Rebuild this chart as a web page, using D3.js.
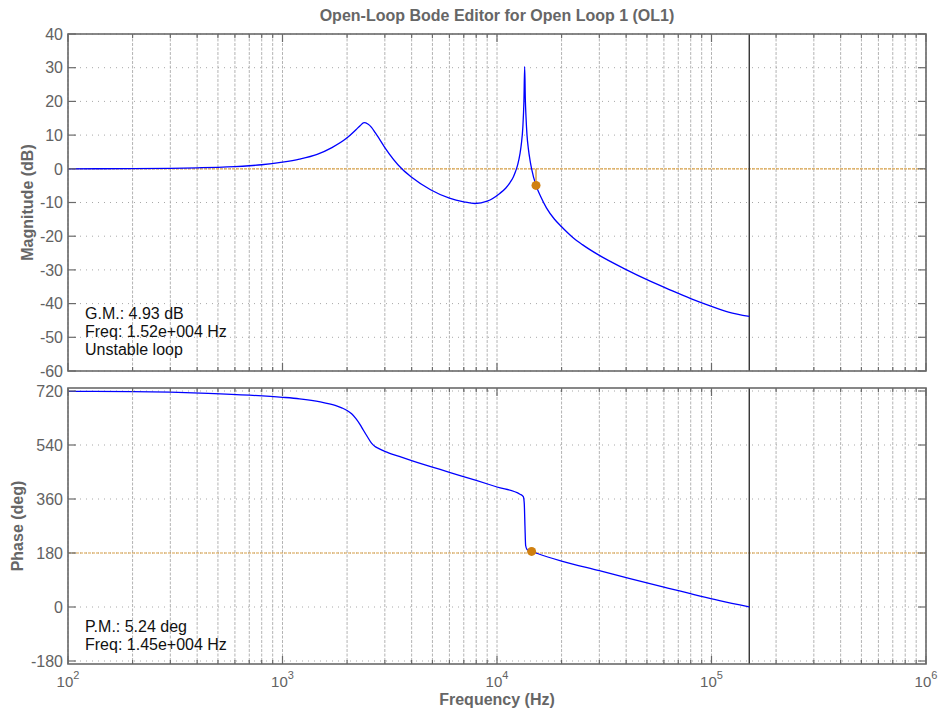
<!DOCTYPE html>
<html><head><meta charset="utf-8">
<script src="https://cdn.jsdelivr.net/npm/d3@7"></script>
<style>body{margin:0;background:#fff} svg{display:block} text{font-family:"Liberation Sans",Arial,Helvetica,sans-serif}</style>
</head><body><svg id="c" width="938" height="711"></svg>
<script>
// ---- data ----
const magFreq = [100, 200, 300, 400, 500, 600, 700, 800, 1000, 1200, 1450, 1700, 2000, 2200, 2300, 2400, 2500, 2600, 2700, 2800, 3000, 3600, 4000, 4900, 6000, 7000, 7900, 9000, 10300, 11000, 11500, 11900, 12200, 12500, 12800, 13000, 13200, 13350, 13460, 13550, 13650, 13800, 14000, 14250, 14500, 15200, 16000, 17000, 18500, 20000, 22500, 25000, 30000, 40000, 50000, 64000, 80000, 100000, 120000, 150000];
const magDb   = [0, 0.05, 0.15, 0.3, 0.45, 0.65, 0.9, 1.2, 2.0, 2.9, 4.3, 6.3, 9.2, 11.6, 12.8, 13.7, 13.3, 12.3, 10.8, 9.3, 6.3, 0, -2.5, -6.2, -8.7, -9.8, -10.3, -9.6, -7.3, -5.7, -4.1, -2.5, -0.8, 1.3, 4.5, 7.6, 12.5, 20, 30.3, 21, 15.5, 10, 6, 2.6, 0, -4.93, -8.3, -11.6, -14.9, -17.2, -20.3, -22.5, -25.7, -29.9, -32.9, -35.9, -38.5, -40.8, -42.5, -43.8];
const phaseFreq = [100, 200, 300, 450, 700, 1000, 1200, 1500, 1760, 1900, 2000, 2100, 2200, 2300, 2380, 2500, 2600, 2700, 2800, 3000, 3500, 4000, 6000, 8000, 10000, 12800, 13260, 13400, 13500, 13600, 13800, 14500, 15200, 20000, 30000, 40000, 60000, 109000, 150000];
const phaseDeg  = [719, 718, 716, 712, 706, 699, 694, 684, 672, 663, 655, 644, 628, 608, 590, 565, 546, 535, 529, 519, 502, 488, 449, 422, 400, 376, 368, 345, 270, 205, 192, 185.24, 180, 153, 121, 98, 66, 21, 0];
const magTicks = [-60, -50, -40, -30, -20, -10, 0, 10, 20, 30, 40];
const phaseTicks = [-180, 0, 180, 360, 540, 720];
const freqTickExp = [2, 3, 4, 5, 6];
const gmFreq = 1.52e4, gmDb = -4.93;
const pmFreq = 1.45e4, pmDeg = 185.24;
const refDb = 0, refDeg = 180;
const endFreq = 1.5e5;
const gmLines = ["G.M.: 4.93 dB", "Freq: 1.52e+004 Hz", "Unstable loop"];
const pmLines = ["P.M.: 5.24 deg", "Freq: 1.45e+004 Hz"];

// ---- layout ----
const svg = d3.select('#c');
const L = 68, R = 926;
const x = d3.scaleLog().domain([1e2, 1e6]).range([L, R]);
const yMag = d3.scaleLinear().domain([-60, 40]).range([371, 34]);
const yPh = d3.scaleLinear().domain([-190, 730]).range([664, 388]);
const gridX = x.ticks();
const axisCol = '#6a6a6a', labCol = '#626262', orange = '#d9a24a', dotCol = '#d0800f';

function panel(y, yTicks, freqs, vals, refVal, mk, lines, ylast) {
  const [b, t] = y.range();
  const g = svg.append('g');
  g.selectAll('.vg').data(gridX).join('line')
    .attr('x1', d => x(d)).attr('x2', d => x(d)).attr('y1', t).attr('y2', b)
    .attr('stroke', '#b4b4b4').attr('stroke-width', 1).attr('stroke-dasharray', '3,1.5');
  g.selectAll('.hg').data(yTicks).join('line')
    .attr('x1', L).attr('x2', R).attr('y1', d => y(d)).attr('y2', d => y(d))
    .attr('stroke', '#a8a8a8').attr('stroke-width', 1).attr('stroke-dasharray', '1,5');
  g.append('line').attr('x1', L).attr('x2', R).attr('y1', y(refVal)).attr('y2', y(refVal))
    .attr('stroke', orange).attr('stroke-width', 1.2).attr('stroke-dasharray', '3,1');
  g.append('line').attr('x1', x(endFreq)).attr('x2', x(endFreq)).attr('y1', t).attr('y2', b)
    .attr('stroke', '#333').attr('stroke-width', 1.4);
  const pts = freqs.map((f, i) => [f, vals[i]]);
  g.append('path').datum(pts)
    .attr('d', d3.line().x(d => x(d[0])).y(d => y(d[1])).curve(d3.curveMonotoneX))
    .attr('fill', 'none').attr('stroke', '#0000ff').attr('stroke-width', 1.3);
  g.append('line').attr('x1', x(mk[0])).attr('x2', x(mk[0])).attr('y1', y(refVal)).attr('y2', y(mk[1]))
    .attr('stroke', orange).attr('stroke-width', 1.5);
  g.append('circle').attr('cx', x(mk[0])).attr('cy', y(mk[1])).attr('r', 4.5).attr('fill', dotCol);
  g.append('rect').attr('x', L).attr('y', t).attr('width', R - L).attr('height', b - t)
    .attr('fill', 'none').attr('stroke', axisCol).attr('stroke-width', 1.6);
  yTicks.forEach(v => {
    g.append('line').attr('x1', L).attr('x2', L + 8).attr('y1', y(v)).attr('y2', y(v)).attr('stroke', axisCol).attr('stroke-width', 1.2);
    g.append('line').attr('x1', R).attr('x2', R - 8).attr('y1', y(v)).attr('y2', y(v)).attr('stroke', axisCol).attr('stroke-width', 1.2);
  });
  gridX.forEach(f => {
    const major = Math.abs(Math.log10(f) - Math.round(Math.log10(f))) < 1e-9;
    const len = major ? 8 : 4;
    g.append('line').attr('x1', x(f)).attr('x2', x(f)).attr('y1', b).attr('y2', b - len).attr('stroke', axisCol).attr('stroke-width', 1.2);
    g.append('line').attr('x1', x(f)).attr('x2', x(f)).attr('y1', t).attr('y2', t + len).attr('stroke', axisCol).attr('stroke-width', 1.2);
  });
  g.selectAll('.yl').data(yTicks).join('text')
    .attr('x', 63).attr('y', d => y(d)).attr('dy', '0.36em').attr('text-anchor', 'end')
    .attr('font-size', 16).attr('fill', labCol).text(d => d);
  lines.forEach((s, i) => {
    g.append('text').attr('x', 85).attr('y', ylast - (lines.length - 1 - i) * 18)
      .attr('font-size', 16).attr('fill', '#111').text(s);
  });
}
panel(yMag, magTicks, magFreq, magDb, refDb, [gmFreq, gmDb], gmLines, 354.5);
panel(yPh, phaseTicks, phaseFreq, phaseDeg, refDeg, [pmFreq, pmDeg], pmLines, 650);

freqTickExp.forEach(e => {
  const t = svg.append('text').attr('x', x(Math.pow(10, e))).attr('y', 687).attr('text-anchor', 'middle')
    .attr('fill', labCol).attr('font-size', 15);
  t.append('tspan').text('10');
  t.append('tspan').attr('dy', -8).attr('font-size', 11).text(e);
});

svg.append('text').attr('x', (L + R) / 2).attr('y', 21).attr('text-anchor', 'middle')
  .attr('font-size', 16).attr('font-weight', 'bold').attr('fill', '#666').text('Open-Loop Bode Editor for Open Loop 1 (OL1)');
svg.append('text').attr('x', (L + R) / 2).attr('y', 705).attr('text-anchor', 'middle')
  .attr('font-size', 16).attr('font-weight', 'bold').attr('fill', '#666').text('Frequency (Hz)');
svg.append('text').attr('transform', `translate(33,${(34 + 371) / 2}) rotate(-90)`).attr('text-anchor', 'middle')
  .attr('font-size', 16).attr('font-weight', 'bold').attr('fill', '#666').text('Magnitude (dB)');
svg.append('text').attr('transform', `translate(23,${(388 + 664) / 2}) rotate(-90)`).attr('text-anchor', 'middle')
  .attr('font-size', 16).attr('font-weight', 'bold').attr('fill', '#666').text('Phase (deg)');
</script></body></html>
